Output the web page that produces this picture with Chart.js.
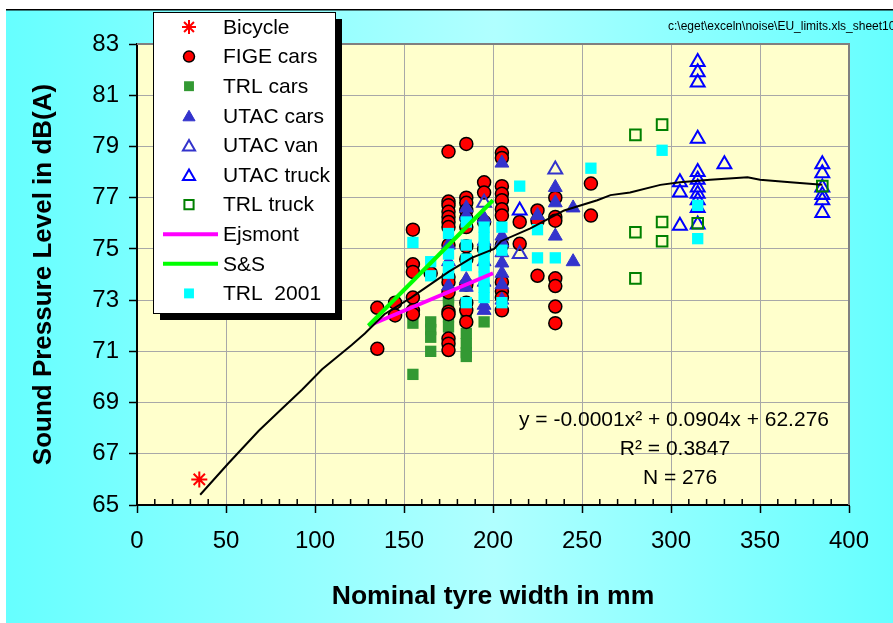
<!DOCTYPE html>
<html>
<head>
<meta charset="utf-8">
<script src="https://cdn.jsdelivr.net/npm/chart.js@4.4.0/dist/chart.umd.min.js"></script>
<style>
    html, body { margin: 0; padding: 0; background: #fff; }
    #wrap { width: 893px; height: 623px; }
</style>
</head>
<body>
<div id="wrap"><canvas id="noiseChart" width="893" height="623"></canvas></div>
<script>
// values: [tyre width mm, dB(A)]
const bicycle = [[35, 66.0]];
const figeCars = [
    [135, 72.7], [135, 71.1],
    [145, 72.9], [145, 72.4],
    [155, 75.75], [155, 74.4], [155, 74.1], [155, 73.1], [155, 72.6], [155, 72.45],
    [165, 74.05],
    [175, 78.8], [175, 76.85], [175, 76.7], [175, 76.45], [175, 76.25], [175, 76.05], [175, 75.85], [175, 75.15],
    [175, 73.9], [175, 73.7], [175, 73.3], [175, 72.55], [175, 72.45], [175, 71.5], [175, 71.3], [175, 71.05],
    [185, 79.1], [185, 77.0], [185, 76.8], [185, 76.5], [185, 76.2], [185, 75.85], [185, 75.1], [185, 74.6],
    [185, 73.6], [185, 72.9], [185, 72.6], [185, 72.15],
    [195, 77.6], [195, 77.2], [195, 76.05], [195, 75.0],
    [205, 78.75], [205, 78.55], [205, 77.45], [205, 77.15], [205, 76.9], [205, 76.55], [205, 76.3], [205, 75.15],
    [205, 73.7], [205, 73.35], [205, 73.1], [205, 72.6],
    [215, 76.05], [215, 75.2],
    [225, 76.5], [225, 76.1], [225, 73.95],
    [235, 77.0], [235, 76.25], [235, 76.1], [235, 73.85], [235, 73.55], [235, 72.75], [235, 72.1],
    [255, 77.55], [255, 76.3]
];
const trlCars = [
    [155, 72.1], [155, 70.1],
    [165, 72.15], [165, 71.85], [165, 71.55], [165, 71.0],
    [175, 73.1], [175, 72.85], [175, 72.35], [175, 71.95],
    [185, 72.9], [185, 72.55], [185, 72.3], [185, 71.7], [185, 71.3], [185, 70.95], [185, 70.8],
    [195, 72.15]
];
const utacCars = [
    [175, 75.15], [175, 74.5], [175, 73.55],
    [185, 76.6], [185, 76.3], [185, 73.8], [185, 73.5],
    [195, 76.2], [195, 75.3], [195, 74.5], [195, 73.7], [195, 72.8], [195, 72.6],
    [205, 78.35], [205, 75.5], [205, 75.25], [205, 74.85], [205, 74.45], [205, 74.05], [205, 73.6], [205, 73.0],
    [225, 76.3],
    [235, 77.4], [235, 76.8], [235, 75.5],
    [245, 76.6], [245, 74.5]
];
const utacVan = [[195, 76.8], [215, 74.8], [235, 78.1]];
const utacTruck = [
    [215, 76.5],
    [305, 77.6], [305, 77.2], [305, 75.9],
    [315, 82.3], [315, 81.9], [315, 81.5], [315, 79.3], [315, 78.0], [315, 77.7], [315, 77.4], [315, 77.15],
    [315, 76.9], [315, 76.6], [315, 75.95],
    [330, 78.3],
    [385, 78.3], [385, 77.95], [385, 77.4], [385, 77.1], [385, 76.9], [385, 76.4]
];
const trlTruck = [[280, 79.45], [295, 79.85], [280, 75.65], [295, 76.05], [295, 75.3], [280, 73.85], [315, 76.0], [385, 77.45]];
const trl2001 = [
    [155, 75.25],
    [165, 74.5], [165, 73.95],
    [175, 75.6], [175, 74.8], [175, 74.3], [175, 74.05],
    [185, 76.05], [185, 75.15], [185, 74.6], [185, 74.35], [185, 72.9],
    [195, 75.85], [195, 75.45], [195, 75.05], [195, 74.7], [195, 74.3], [195, 73.9], [195, 73.5], [195, 73.1],
    [205, 75.85], [205, 74.95], [205, 72.9],
    [215, 77.45],
    [225, 75.75], [225, 74.65],
    [235, 74.65],
    [255, 78.15],
    [295, 78.85],
    [315, 76.7], [315, 75.4]
];
const ejsmont = [[130, 72.0], [200, 74.05]];
const sAndS = [[130, 72.0], [200, 76.9]];
const trend = [
    [35.5, 65.4], [51, 66.6], [68.4, 67.9], [80.5, 68.7], [92.7, 69.5], [104, 70.3], [120.6, 71.25], [128, 71.7],
    [139, 72.45], [154, 73.1], [175, 74.1], [188, 74.65], [200.6, 75.0], [204.5, 75.3], [221, 75.8], [240, 76.5],
    [258.6, 76.9], [266, 77.1], [277, 77.2], [294, 77.5], [305, 77.6], [322, 77.7], [343, 77.8], [350, 77.7],
    [367, 77.6], [376, 77.55], [385, 77.5]
];
const xRange = [0, 400];
const yRange = [65, 83];
const fitLines = ["y = -0.0001x\u00B2 + 0.0904x + 62.276", "R\u00B2 = 0.3847", "N = 276"];
const sourceNote = "c:\\eget\\exceln\\noise\\EU_limits.xls_sheet10";

const FONT = "'Liberation Sans', Arial, sans-serif";
const pts = arr => arr.map(p => ({ x: p[0], y: p[1] }));

function marker(label, data, style, radius, fill, stroke, bw, order) {
    return {
        label, data: pts(data), pointStyle: style, pointRadius: radius,
        pointBackgroundColor: fill, pointBorderColor: stroke, pointBorderWidth: bw,
        backgroundColor: fill, borderColor: stroke, order
    };
}
function line(label, data, color, width, order) {
    return {
        label, data: pts(data), showLine: true, pointRadius: 0, borderColor: color,
        backgroundColor: color, borderWidth: width, order, isLine: true
    };
}

const datasets = [
    marker("Bicycle", bicycle, "star", 8, "#FF0000", "#FF0000", 2, 0),
    marker("FIGE cars", figeCars, "circle", 6.5, "#FF0000", "#000000", 1.5, 9),
    marker("TRL cars", trlCars, "rect", 8, "#339933", "#339933", 0, 10),
    marker("UTAC cars", utacCars, "triangle", 8, "#3333CC", "#3333CC", 1, 8),
    marker("UTAC van", utacVan, "triangle", 8, "rgba(0,0,0,0)", "#3333CC", 2, 7),
    marker("UTAC truck", utacTruck, "triangle", 8, "rgba(0,0,0,0)", "#0000FF", 2, 6),
    marker("TRL truck", trlTruck, "rect", 7.5, "rgba(0,0,0,0)", "#008000", 2, 5),
    line("Ejsmont", ejsmont, "#FF00FF", 4, 3),
    line("S&S", sAndS, "#00FF00", 4, 2),
    marker("TRL  2001", trl2001, "rect", 8, "#00FFFF", "#00FFFF", 0, 4),
    line("trend", trend, "#000000", 2, 1)
];

const frame = {
    id: "frame",
    beforeDraw(chart) {
        const { ctx, chartArea: a, width, height } = chart;
        ctx.save();
        ctx.fillStyle = "#fff";
        ctx.fillRect(0, 0, width, height);
        const g = ctx.createLinearGradient(6, 0, width, 0);
        g.addColorStop(0, "#66FFFF");
        g.addColorStop(0.55, "#B0FFFF");
        g.addColorStop(1, "#66FFFF");
        ctx.fillStyle = g;
        ctx.fillRect(6, 10, width - 6, height - 10);
        ctx.fillStyle = "#000";
        ctx.fillRect(6, 9, width - 6, 1.5);
        ctx.fillStyle = "#FFFFCC";
        ctx.fillRect(a.left, a.top, a.right - a.left, a.bottom - a.top);
        ctx.restore();
    },
    beforeDatasetsDraw(chart) {
        const { ctx, chartArea: a, scales } = chart;
        ctx.save();
        ctx.strokeStyle = "#808080";
        ctx.lineWidth = 2;
        ctx.beginPath();
        ctx.moveTo(a.left, a.top);
        ctx.lineTo(a.right, a.top);
        ctx.lineTo(a.right, a.bottom);
        ctx.stroke();
        // minor ticks inside the x axis
        ctx.strokeStyle = "#000";
        ctx.lineWidth = 1.5;
        for (let v = xRange[0] + 10; v < xRange[1]; v += 10) {
            if (v % 50 === 0) continue;
            const px = scales.x.getPixelForValue(v);
            ctx.beginPath();
            ctx.moveTo(px, a.bottom);
            ctx.lineTo(px, a.bottom - 6);
            ctx.stroke();
        }
        ctx.restore();
    },
    afterDraw(chart) {
        const { ctx } = chart;
        ctx.save();
        // source path
        ctx.fillStyle = "#000";
        ctx.font = "12px " + FONT;
        ctx.textBaseline = "middle";
        ctx.textAlign = "left";
        ctx.fillText(sourceNote, 668, 27);

        // fit text
        ctx.font = "21px " + FONT;
        ctx.textAlign = "center";
        ctx.fillText(fitLines[0], 674, 420);
        ctx.fillText(fitLines[1], 675, 449);
        ctx.fillText(fitLines[2], 680, 478);

        // legend box
        const bx = 153, by = 12, bw = 182, bh = 301;
        ctx.fillStyle = "#000";
        ctx.fillRect(bx + 7, by + 7, bw, bh);
        ctx.fillStyle = "#fff";
        ctx.fillRect(bx, by, bw, bh);
        ctx.strokeStyle = "#000";
        ctx.lineWidth = 1;
        ctx.strokeRect(bx + 0.5, by + 0.5, bw, bh);
        ctx.font = "21px " + FONT;
        ctx.textAlign = "left";
        const shown = chart.data.datasets.filter(d => d.label !== "trend");
        shown.forEach((d, i) => {
            const y = 27 + i * 29.6;
            if (d.isLine) {
                ctx.strokeStyle = d.borderColor;
                ctx.lineWidth = d.borderWidth;
                ctx.beginPath();
                ctx.moveTo(163, y);
                ctx.lineTo(218, y);
                ctx.stroke();
            } else {
                ctx.fillStyle = d.pointBackgroundColor;
                ctx.strokeStyle = d.pointBorderColor;
                ctx.lineWidth = d.pointBorderWidth;
                Chart.helpers.drawPoint(ctx, {
                    pointStyle: d.pointStyle, radius: d.pointStyle === "triangle" ? 7 : d.pointRadius - 1,
                    rotation: 0, borderWidth: d.pointBorderWidth
                }, 189, d.pointStyle === "triangle" ? y + 1.5 : y);
            }
            ctx.fillStyle = "#000";
            ctx.fillText(d.label, 223, y + 1);
        });
        ctx.restore();
    }
};

new Chart(document.getElementById("noiseChart"), {
    type: "scatter",
    data: { datasets },
    options: {
        responsive: false,
        animation: false,
        events: [],
        layout: { padding: { left: 0, right: 44, top: 44, bottom: 0 } },
        plugins: { legend: { display: false }, tooltip: { enabled: false } },
        scales: {
            x: {
                min: xRange[0], max: xRange[1],
                afterFit: s => { s.height = 118; },
                ticks: { stepSize: 50, color: "#000", padding: 14, font: { family: FONT, size: 24 }, maxRotation: 0 },
                grid: { color: "#A8A8A8", lineWidth: 1, tickColor: "#000", tickLength: 8, tickWidth: 1.5 },
                border: { color: "#000", width: 2 },
                title: { display: true, text: "Nominal tyre width in mm", color: "#000",
                    font: { family: FONT, size: 26.5, weight: "bold" }, padding: { top: 10, bottom: 10 } }
            },
            y: {
                min: yRange[0], max: yRange[1],
                afterFit: s => { s.width = 137; },
                ticks: { stepSize: 1, color: "#000", padding: 10, font: { family: FONT, size: 24 },
                    callback: v => (v % 2 === 1 ? v : "") },
                grid: { color: c => (c.tick && c.tick.value % 2 === 1 ? "#A8A8A8" : "rgba(0,0,0,0)"),
                    lineWidth: 1, tickColor: "#000", tickLength: 8, tickWidth: 1.5 },
                border: { color: "#000", width: 2 },
                title: { display: true, text: "Sound Pressure Level in dB(A)", color: "#000",
                    font: { family: FONT, size: 26, weight: "bold" }, padding: { top: 28, bottom: 0 } }
            }
        }
    },
    plugins: [frame]
});
</script>
</body>
</html>
